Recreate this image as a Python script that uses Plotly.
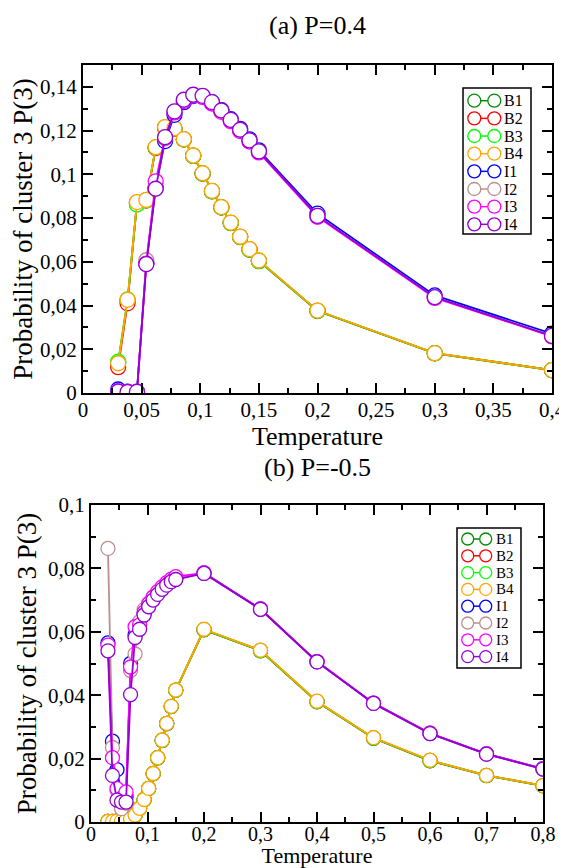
import plotly.graph_objects as go

# ---------------- data ----------------
names = ["B1", "B2", "B3", "B4", "I1", "I2", "I3", "I4"]
colors = ["#008b00", "#ff0000", "#00ff00", "#ffa500", "#0000ff", "#bc8f8f", "#ff00ff", "#9400d3"]

temp_a = [0.03, 0.038, 0.046, 0.054, 0.062, 0.07, 0.078, 0.086, 0.094, 0.102, 0.11, 0.118,
          0.126, 0.134, 0.142, 0.15, 0.2, 0.3, 0.4]
temp_b = [0.03, 0.038, 0.046, 0.054, 0.062, 0.07, 0.078, 0.086, 0.094, 0.102, 0.11, 0.118,
          0.126, 0.134, 0.142, 0.15, 0.2, 0.3, 0.4, 0.5, 0.6, 0.7, 0.8]

# (a) P=0.4
a_B1 = [0.0138, 0.0424, 0.0868, 0.0882, 0.1122, 0.1214, 0.1209, 0.1159, 0.1084, 0.1003, 0.0922,
        0.0848, 0.0777, 0.0713, 0.0655, 0.0603, 0.0375, 0.0181, 0.0104]
a_B2 = [0.0118, 0.0410, 0.0870, 0.0880, 0.1120, 0.1214, 0.1210, 0.1160, 0.1085, 0.1004, 0.0923,
        0.0849, 0.0778, 0.0714, 0.0657, 0.0605, 0.0376, 0.0182, 0.0105]
a_B3 = [0.0143, 0.0428, 0.0862, 0.0881, 0.1123, 0.1215, 0.1210, 0.1160, 0.1085, 0.1004, 0.0923,
        0.0849, 0.0778, 0.0714, 0.0656, 0.0604, 0.0376, 0.0182, 0.0105]
a_B4 = [0.0136, 0.0426, 0.0873, 0.0883, 0.1124, 0.1216, 0.1211, 0.1161, 0.1086, 0.1005, 0.0924,
        0.0850, 0.0779, 0.0715, 0.0658, 0.0606, 0.0377, 0.0182, 0.0105]
a_I1 = [0.0016, 0.0006, 0.0006, 0.0595, 0.0940, 0.1152, 0.1272, 0.1330, 0.1358, 0.1356, 0.1330,
        0.1294, 0.1252, 0.1208, 0.1160, 0.1110, 0.0820, 0.0446, 0.0271]
a_I2 = [0.0008, 0.0005, 0.0005, 0.0607, 0.0945, 0.1165, 0.1285, 0.1338, 0.1362, 0.1357, 0.1328,
        0.1290, 0.1247, 0.1202, 0.1153, 0.1103, 0.0810, 0.0438, 0.0262]
a_I3 = [0.0007, 0.0005, 0.0005, 0.0592, 0.0968, 0.1168, 0.1283, 0.1335, 0.1360, 0.1354, 0.1324,
        0.1286, 0.1243, 0.1198, 0.1150, 0.1100, 0.0806, 0.0435, 0.0259]
a_I4 = [0.0006, 0.0004, 0.0005, 0.0589, 0.0934, 0.1170, 0.1288, 0.1341, 0.1364, 0.1359, 0.1330,
        0.1292, 0.1249, 0.1204, 0.1155, 0.1105, 0.0810, 0.0438, 0.0261]

# (b) P=-0.5
b_B1 = [0.0002, 0.0002, 0.0003, 0.0003, 0.0005, 0.0011, 0.0022, 0.0043, 0.0070, 0.0105, 0.0152,
        0.0202, 0.0257, 0.0310, 0.0364, 0.0415, 0.0606, 0.0540, 0.0379, 0.0264, 0.0193, 0.0146, 0.0114]
b_B2 = [0.0002, 0.0002, 0.0003, 0.0003, 0.0005, 0.0010, 0.0022, 0.0043, 0.0071, 0.0106, 0.0153,
        0.0203, 0.0258, 0.0311, 0.0365, 0.0416, 0.0607, 0.0541, 0.0380, 0.0265, 0.0194, 0.0147, 0.0115]
b_B3 = [0.0002, 0.0002, 0.0003, 0.0003, 0.0005, 0.0010, 0.0022, 0.0043, 0.0071, 0.0106, 0.0153,
        0.0203, 0.0258, 0.0311, 0.0365, 0.0416, 0.0607, 0.0541, 0.0380, 0.0265, 0.0194, 0.0147, 0.0115]
b_B4 = [0.0002, 0.0002, 0.0003, 0.0003, 0.0005, 0.0010, 0.0022, 0.0043, 0.0071, 0.0106, 0.0153,
        0.0203, 0.0258, 0.0311, 0.0365, 0.0416, 0.0608, 0.0542, 0.0381, 0.0266, 0.0195, 0.0147, 0.0115]
b_I1 = [0.0565, 0.0255, 0.0165, 0.0085, 0.0080, 0.0500, 0.0590, 0.0612, 0.0658, 0.0685, 0.0706,
        0.0722, 0.0737, 0.0750, 0.0760, 0.0767, 0.0786, 0.0672, 0.0506, 0.0375, 0.0280, 0.0215, 0.0168]
b_I2 = [0.0863, 0.0235, 0.0100, 0.0042, 0.0060, 0.0478, 0.0530, 0.0632, 0.0670, 0.0690, 0.0710,
        0.0726, 0.0740, 0.0752, 0.0762, 0.0770, 0.0785, 0.0671, 0.0505, 0.0374, 0.0279, 0.0214, 0.0167]
b_I3 = [0.0558, 0.0203, 0.0105, 0.0075, 0.0095, 0.0489, 0.0616, 0.0622, 0.0662, 0.0688, 0.0709,
        0.0727, 0.0742, 0.0755, 0.0766, 0.0774, 0.0786, 0.0672, 0.0506, 0.0375, 0.0280, 0.0215, 0.0168]
b_I4 = [0.0540, 0.0147, 0.0069, 0.0063, 0.0063, 0.0402, 0.0582, 0.0608, 0.0653, 0.0679, 0.0700,
        0.0718, 0.0734, 0.0747, 0.0758, 0.0765, 0.0784, 0.0671, 0.0505, 0.0374, 0.0279, 0.0214, 0.0167]

series_a = [a_B1, a_B2, a_B3, a_B4, a_I1, a_I2, a_I3, a_I4]
series_b = [b_B1, b_B2, b_B3, b_B4, b_I1, b_I2, b_I3, b_I4]

xt_a_vals = [0, 0.05, 0.1, 0.15, 0.2, 0.25, 0.3, 0.35, 0.4]
xt_a_text = ["0", "0,05", "0,1", "0,15", "0,2", "0,25", "0,3", "0,35", "0,4"]
yt_a_vals = [0, 0.02, 0.04, 0.06, 0.08, 0.1, 0.12, 0.14]
yt_a_text = ["0", "0,02", "0,04", "0,06", "0,08", "0,1", "0,12", "0,14"]
xt_b_vals = [0, 0.1, 0.2, 0.3, 0.4, 0.5, 0.6, 0.7, 0.8]
xt_b_text = ["0", "0,1", "0,2", "0,3", "0,4", "0,5", "0,6", "0,7", "0,8"]
yt_b_vals = [0, 0.02, 0.04, 0.06, 0.08, 0.1]
yt_b_text = ["0", "0,02", "0,04", "0,06", "0,08", "0,1"]

title_a = "(a) P=0.4"
title_b = "(b) P=-0.5"
xlabel = "Temperature"
ylabel = "Probability of cluster 3 P(3)"

# ---------------- figure ----------------
# page body has an 8px default margin, so the figure is sized to fit the window
OFF = 8
W, H = 567 - OFF, 868 - OFF
FONT = "Liberation Serif, Times New Roman, serif"


def px_x(p):
    return (p - OFF) / W


def px_y(p):
    return 1 - (p - OFF) / H


fig = go.Figure()
for name, col, ys in zip(names, colors, series_a):
    fig.add_trace(go.Scatter(
        x=temp_a, y=ys, name=name, mode="lines+markers", showlegend=False,
        line=dict(color=col, width=1.8),
        marker=dict(symbol="circle", size=15, color="white", line=dict(color=col, width=1.3)),
        xaxis="x", yaxis="y"))
for name, col, ys in zip(names, colors, series_b):
    fig.add_trace(go.Scatter(
        x=temp_b, y=ys, name=name, mode="lines+markers", showlegend=False,
        line=dict(color=col, width=1.8),
        marker=dict(symbol="circle", size=14, color="white", line=dict(color=col, width=1.3)),
        xaxis="x2", yaxis="y2"))

dom_a_x = [px_x(83), px_x(552)]
dom_a_y = [px_y(393), px_y(65)]
dom_b_x = [px_x(91), px_x(543)]
dom_b_y = [px_y(822), px_y(505)]

common = dict(
    showline=True, linecolor="black", linewidth=2, mirror="allticks",
    ticks="inside", ticklen=10, tickwidth=1.5, tickcolor="black",
    showgrid=False, zeroline=False, automargin=False,
)


def tf(size):
    return dict(family=FONT, size=size, color="black")


def minor(d):
    return dict(tickmode="linear", tick0=0, dtick=d, ticks="inside", ticklen=5,
                tickwidth=1.5, tickcolor="black", showgrid=False)


shapes = []
annotations = []


def add_legend(box, y_first, dy, cx1, cx2, r, tx, fsize):
    # box: (left, top, right, bottom) in window pixels
    l, t, rgt, b = box
    shapes.append(dict(type="rect", xref="paper", yref="paper",
                       x0=px_x(l), x1=px_x(rgt), y0=px_y(b), y1=px_y(t),
                       line=dict(color="black", width=1.5), fillcolor="white", layer="above"))
    for i, (name, col) in enumerate(zip(names, colors)):
        yc = y_first + i * dy
        shapes.append(dict(type="line", xref="paper", yref="paper",
                           x0=px_x(cx1 + r), x1=px_x(cx2 - r), y0=px_y(yc), y1=px_y(yc),
                           line=dict(color=col, width=1.5), layer="above"))
        for cx in (cx1, cx2):
            shapes.append(dict(type="circle", xref="paper", yref="paper",
                               x0=px_x(cx - r), x1=px_x(cx + r), y0=px_y(yc + r), y1=px_y(yc - r),
                               line=dict(color=col, width=1.3), fillcolor="white", layer="above"))
        annotations.append(dict(text=name, xref="paper", yref="paper", x=px_x(tx), y=px_y(yc),
                                xanchor="left", yanchor="middle", showarrow=False,
                                borderpad=0, font=tf(fsize)))


add_legend((463, 88, 531, 234), 100.7, 17.66, 474.3, 494.3, 6.5, 503, 16)
add_legend((457, 528, 521, 668), 539.0, 16.8, 467.7, 485.7, 6.0, 495, 15)

annotations.append(dict(text=title_a, x=(dom_a_x[0] + dom_a_x[1]) / 2, y=px_y(26), xref="paper",
                        yref="paper", showarrow=False, font=tf(26),
                        xanchor="center", yanchor="middle"))
annotations.append(dict(text=title_b, x=(dom_b_x[0] + dom_b_x[1]) / 2, y=px_y(467), xref="paper",
                        yref="paper", showarrow=False, font=tf(26),
                        xanchor="center", yanchor="middle"))

fig.update_layout(
    width=W, height=H,
    margin=dict(l=0, r=0, t=0, b=0, autoexpand=False),
    paper_bgcolor="white", plot_bgcolor="white",
    font=dict(family=FONT, color="black"),
    showlegend=False,
    xaxis=dict(domain=dom_a_x, range=[0, 0.4], anchor="y", ticklabelstandoff=-3, tickfont=tf(21),
               tickmode="array", tickvals=xt_a_vals, ticktext=xt_a_text, minor=minor(0.025),
               title=dict(text=xlabel, font=tf(26), standoff=0), **common),
    yaxis=dict(domain=dom_a_y, range=[0, 0.15], anchor="x", tickfont=tf(21),
               tickmode="array", tickvals=yt_a_vals, ticktext=yt_a_text, minor=minor(0.01),
               title=dict(text=ylabel, font=tf(27), standoff=4), **common),
    xaxis2=dict(domain=dom_b_x, range=[0, 0.8], anchor="y2", ticklabelstandoff=-7, tickfont=tf(20),
                tickmode="array", tickvals=xt_b_vals, ticktext=xt_b_text, minor=minor(0.05),
                title=dict(text=xlabel, font=tf(22), standoff=4), **common),
    yaxis2=dict(domain=dom_b_y, range=[0, 0.1], anchor="x2", tickfont=tf(21),
                tickmode="array", tickvals=yt_b_vals, ticktext=yt_b_text, minor=minor(0.01),
                title=dict(text=ylabel, font=tf(27), standoff=4), **common),
    shapes=shapes,
    annotations=annotations,
)

fig.write_html("out.html")
